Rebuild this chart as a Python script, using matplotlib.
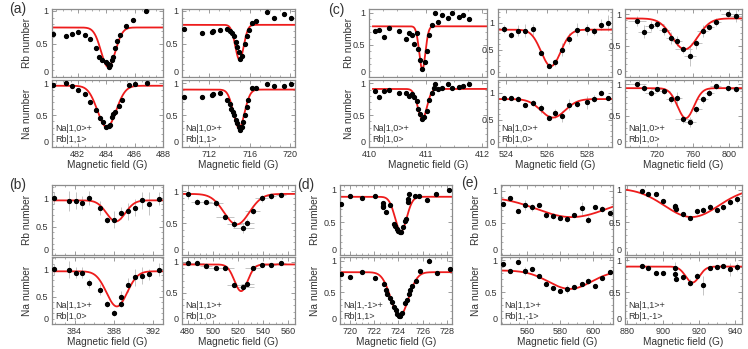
import numpy as np
import matplotlib
matplotlib.use("Agg")
import matplotlib.pyplot as plt
from matplotlib.ticker import AutoMinorLocator

plt.rcParams['font.family'] = ['Liberation Sans', 'DejaVu Sans']

# ---------------- data ----------------
# fit parameters: (baseline, depth, centre, sigma)

# (a) left: Na|1,0> + Rb|1,1>, ~484 G
a1_rb_x = [480.27, 481.2, 481.6, 482.0, 482.5, 482.9, 483.3, 483.5, 483.7, 484.0, 484.1,
           484.2, 484.3, 484.4, 484.5, 484.6, 484.8, 485.0, 485.4, 485.9, 486.8]
a1_rb_y = [0.65, 0.62, 0.65, 0.68, 0.63, 0.57, 0.44, 0.31, 0.26, 0.22, 0.19,
           0.15, 0.18, 0.25, 0.30, 0.44, 0.54, 0.63, 0.77, 0.87, 1.0]
a1_na_x = [480.27, 481.2, 481.6, 482.0, 482.5, 482.9, 483.3, 483.6, 483.8, 484.0,
           484.2, 484.3, 484.4, 484.5, 484.6, 484.9, 485.1, 485.6, 486.0, 486.9]
a1_na_y = [0.97, 1.0, 0.95, 0.89, 0.83, 0.71, 0.58, 0.45, 0.39, 0.31,
           0.33, 0.35, 0.47, 0.51, 0.55, 0.64, 0.74, 0.97, 0.98, 1.0]
a1_rb_fit = (0.75, 0.60, 484.15, 0.5)
a1_na_fit = (0.96, 0.65, 484.05, 0.65)

# (a) right: Na|1,0> + Rb|1,1>, ~715 G
a2_rb_x = [709.5, 711.3, 712.3, 712.4, 713.1, 713.8, 714.05, 714.3, 714.5, 714.65, 714.8, 714.95,
           715.05, 715.2, 715.5, 715.7, 715.9, 716.2, 716.6, 717.7, 718.4, 719.4, 720.15]
a2_rb_y = [0.72, 0.67, 0.68, 0.70, 0.71, 0.72, 0.69, 0.66, 0.62, 0.53, 0.45, 0.38,
           0.27, 0.32, 0.50, 0.62, 0.71, 0.82, 0.85, 0.99, 0.90, 0.95, 0.90]
a2_na_x = [709.5, 711.3, 712.3, 712.4, 713.1, 713.8, 714.05, 714.2, 714.4, 714.5, 714.65, 714.8, 714.9,
           715.05, 715.2, 715.35, 715.5, 715.7, 715.85, 716.2, 716.6, 717.7, 718.4, 719.4, 720.15]
a2_na_y = [0.79, 0.78, 0.81, 0.83, 0.84, 0.74, 0.67, 0.60, 0.55, 0.50, 0.43, 0.37, 0.32,
           0.27, 0.32, 0.39, 0.50, 0.63, 0.74, 0.92, 0.93, 0.99, 0.95, 0.96, 0.98]
a2_rb_fit = (0.79, 0.53, 715.0, 0.42)
a2_na_fit = (0.90, 0.60, 714.95, 0.55)

# (c) left: Na|1,0> + Rb|1,0>, ~411 G
c1_rb_x = [410.10, 410.17, 410.27, 410.36, 410.53, 410.65, 410.71, 410.76, 410.79, 410.84, 410.86, 410.90,
           410.94, 410.99, 411.02, 411.06, 411.11, 411.17, 411.21, 411.29, 411.40, 411.47, 411.58, 411.66, 411.77]
c1_rb_y = [0.72, 0.74, 0.63, 0.76, 0.72, 0.60, 0.68, 0.65, 0.52, 0.68, 0.44, 0.27,
           0.12, 0.23, 0.40, 0.65, 0.81, 1.0, 0.86, 0.96, 0.92, 0.99, 0.93, 0.97, 0.91]
c1_na_x = [410.10, 410.17, 410.27, 410.36, 410.53, 410.65, 410.71, 410.76, 410.79, 410.84, 410.86, 410.90, 410.94,
           410.97, 411.02, 411.06, 411.11, 411.15, 411.17, 411.21, 411.29, 411.40, 411.47, 411.58, 411.66, 411.77]
c1_na_y = [0.88, 0.79, 0.87, 0.89, 0.84, 0.84, 0.80, 0.83, 0.78, 0.72, 0.60, 0.52, 0.44,
           0.47, 0.57, 0.73, 0.85, 0.92, 0.99, 0.91, 0.92, 0.99, 0.92, 0.94, 0.96, 0.99]
c1_rb_fit = (0.79, 0.67, 410.94, 0.055)
c1_na_fit = (0.91, 0.47, 410.94, 0.08)

# (c) middle: Na|1,0> + Rb|1,0>, ~526 G
c2_x = [523.9, 524.25, 524.6, 524.95, 525.3, 525.7, 526.1, 526.4, 526.75, 527.1, 527.5, 527.95, 528.3, 528.65, 529.0]
c2_rb = [0.88, 0.77, 0.85, 0.85, 0.88, 0.45, 0.21, 0.27, 0.50, 0.70, 0.87, 0.88, 0.84, 0.96, 0.99]
c2_rb_err = [0.08, 0.06, 0.10, 0.12, 0.10, 0.05, 0.04, 0.06, 0.12, 0.10, 0.12, 0.10, 0.06, 0.10, 0.15]
c2_na = [0.90, 0.90, 0.89, 0.77, 0.81, 0.71, 0.54, 0.62, 0.56, 0.78, 0.79, 0.82, 0.89, 1.0, 0.90]
c2_na_err = [0.04, 0.03, 0.05, 0.03, 0.05, 0.08, 0.04, 0.08, 0.10, 0.10, 0.06, 0.12, 0.07, 0.05, 0.04]
c2_rb_fit = (0.87, 0.67, 526.2, 0.48)
c2_na_fit = (0.88, 0.34, 526.3, 0.6)

# (c) right: Na|1,0> + Rb|1,0>, ~750 G
c3_x = [698.6, 706.3, 713.4, 720.7, 728.1, 735.5, 742.1, 749.4, 756.8, 763.4, 770.8, 778.1, 785.2, 799.1, 807.2]
c3_xerr = [10, 7, 6, 7, 6, 5, 6, 9, 7, 6, 6, 5, 6, 8, 7]
c3_rb = [0.89, 0.72, 0.81, 0.84, 0.74, 0.62, 0.57, 0.44, 0.33, 0.54, 0.73, 0.80, 0.87, 1.0, 0.97]
c3_rb_err = [0.08, 0.10, 0.08, 0.06, 0.08, 0.10, 0.08, 0.06, 0.16, 0.10, 0.10, 0.06, 0.06, 0.04, 0.10]
c3_na = [1.0, 0.94, 0.87, 0.92, 0.90, 0.77, 0.78, 0.44, 0.40, 0.60, 0.76, 0.87, 0.97, 0.94, 0.92]
c3_na_err = [0.04, 0.05, 0.06, 0.04, 0.05, 0.06, 0.10, 0.06, 0.08, 0.06, 0.06, 0.05, 0.04, 0.04, 0.04]
c3_rb_fit = (0.93, 0.49, 751.0, 14.0)
c3_na_fit = (0.94, 0.48, 752.0, 9.0)

# (b) left: Na|1,1> + Rb|1,0>, ~388 G
b1_rb_x = [381.9, 383.4, 384.1, 384.8, 385.5, 386.6, 387.3, 388.0, 388.7, 389.4, 390.1, 390.85, 391.6, 392.6]
b1_rb_y = [1.0, 0.95, 0.95, 0.92, 1.0, 0.83, 0.61, 0.62, 0.74, 0.77, 0.83, 0.96, 0.90, 0.99]
b1_rb_err = [0.10, 0.17, 0.15, 0.12, 0.12, 0.12, 0.05, 0.15, 0.10, 0.15, 0.15, 0.15, 0.20, 0.12]
b1_na_x = [381.9, 383.4, 384.1, 384.8, 385.5, 386.6, 387.3, 388.0, 388.7, 388.7, 389.4, 390.1, 390.85, 391.6, 392.6]
b1_na_y = [1.0, 0.99, 0.93, 0.93, 0.74, 0.62, 0.36, 0.20, 0.50, 0.36, 0.71, 0.85, 0.88, 0.91, 0.99]
b1_na_err = [0.10, 0.15, 0.10, 0.10, 0.08, 0.10, 0.05, 0.05, 0.10, 0.05, 0.12, 0.15, 0.15, 0.10, 0.12]
b1_rb_fit = (0.96, 0.37, 388.2, 0.95)
b1_na_fit = (0.96, 0.64, 388.3, 1.05)

# (b) right: Na|1,1> + Rb|1,0>, ~520 G
b2_x = [480.0, 487.9, 494.8, 502.5, 509.9, 517.2, 524.4, 527.5, 531.8, 538.9, 546.3, 554.0]
b2_xerr = [5, 5, 5, 6, 7, 6, 8, 5, 6, 5, 4, 4]
b2_rb = [0.96, 0.84, 0.84, 0.81, 0.59, 0.49, 0.42, 0.51, 0.69, 0.89, 0.92, 0.95]
b2_rb_err = [0.08, 0.04, 0.03, 0.05, 0.03, 0.06, 0.08, 0.05, 0.05, 0.05, 0.04, 0.03]
b2_na = [0.98, 0.98, 0.94, 0.90, 0.90, 0.63, 0.60, 0.65, 0.90, 0.95, 0.95, 0.99]
b2_na_err = [0.03, 0.03, 0.03, 0.03, 0.03, 0.04, 0.04, 0.04, 0.03, 0.03, 0.03, 0.03]
b2_rb_fit = (0.96, 0.48, 519.0, 10.0)
b2_na_fit = (0.96, 0.43, 522.5, 5.3)

# (d): Na|1,-1> + Rb|1,1>, ~724 G
d_rb_x = [719.3, 720.0, 721.0, 722.1, 722.7, 722.7, 722.75, 723.0, 723.3, 723.6, 723.7, 723.85, 724.0,
          724.1, 724.25, 724.4, 724.55, 724.65, 724.75, 724.8, 724.9, 725.35, 725.65, 726.35, 727.1, 728.15]
d_rb_y = [0.78, 0.90, 0.875, 0.90, 0.80, 0.75, 0.73, 0.66, 0.77, 0.48, 0.44, 0.39, 0.36,
          0.35, 0.35, 0.43, 0.52, 0.55, 0.81, 0.86, 0.93, 0.90, 0.90, 0.84, 0.93, 1.0]
d_na_x = [719.3, 720.0, 721.0, 722.1, 722.8, 722.95, 723.1, 723.3, 723.5, 723.6, 723.77, 723.88, 724.04,
          724.15, 724.3, 724.56, 724.7, 724.86, 724.97, 725.14, 725.47, 725.8, 726.5, 727.2, 728.25]
d_na_y = [0.79, 0.75, 0.83, 0.72, 0.63, 0.54, 0.47, 0.41, 0.35, 0.27, 0.22, 0.16, 0.13,
          0.13, 0.17, 0.33, 0.38, 0.48, 0.54, 0.60, 0.68, 0.84, 1.0, 0.81, 0.87]
d_rb_fit = (0.89, 0.53, 724.2, 0.48)
d_na_fit = (0.82, 0.69, 724.1, 0.72)

# (e) left: Na|1,1> + Rb|1,-1>, ~586 G
e1_x = [545.6, 550.0, 554.4, 558.6, 563.0, 567.4, 571.4, 575.6, 580.0, 584.4, 588.6, 593.0, 597.0, 601.4, 605.6, 610.0]
e1_rb = [0.80, 0.89, 0.69, 0.78, 0.74, 0.78, 0.62, 0.60, 0.58, 0.56, 0.62, 0.73, 0.55, 0.74, 0.72, 0.66]
e1_rb_err = [0.0, 0.0, 0.0, 0.08, 0.05, 0.0, 0.04, 0.04, 0.04, 0.04, 0.03, 0.10, 0.05, 0.03, 0.05, 0.03]
e1_na = [0.94, 0.83, 0.97, 0.83, 0.86, 0.76, 0.63, 0.56, 0.52, 0.55, 0.58, 0.62, 0.67, 0.60, 0.72, 0.81]
e1_na_err = [0.0, 0.0, 0.0, 0.06, 0.03, 0.03, 0.03, 0.02, 0.02, 0.06, 0.03, 0.03, 0.05, 0.03, 0.02, 0.02]
e1_rb_fit = (0.91, 0.32, 587.0, 21.0)
e1_na_fit = (0.84, 0.29, 586.0, 13.0)

# (e) right: Na|1,1> + Rb|1,-1>, ~916 G
e2_x = [888.3, 892.0, 896.1, 899.9, 906.8, 906.8, 907.3, 911.0, 915.1, 918.8, 922.4, 926.2, 929.9, 933.5, 937.6, 941.0]
e2_rb = [0.98, 0.94, 0.94, 0.83, 0.75, 0.73, 0.70, 0.62, 0.57, 0.67, 0.69, 0.74, 0.69, 0.73, 0.81, 0.85]
e2_rb_err = [0.02, 0.03, 0.03, 0.02, 0.04, 0.03, 0.03, 0.04, 0.03, 0.04, 0.05, 0.04, 0.03, 0.04, 0.05, 0.05]
e2_na = [0.91, 0.88, 0.80, 0.80, 0.87, 0.78, 0.71, 0.74, 0.65, 0.76, 0.61, 0.88, 0.90, 0.91, 0.86, 0.89]
e2_na_err = [0.02, 0.02, 0.02, 0.02, 0.10, 0.05, 0.04, 0.05, 0.05, 0.04, 0.15, 0.03, 0.03, 0.03, 0.10, 0.06]
e2_rb_fit = (1.02, 0.44, 916.0, 15.0)
e2_na_fit = (0.90, 0.25, 916.5, 3.8)

# ---------------- drawing ----------------
W, H = 748, 349
RED = '#ee1c1c'
FRAME = '#8c8c8c'
TXT = '#333333'

fig = plt.figure(figsize=(W / 100, H / 100), dpi=100)


def gauss(x, p):
    base, depth, x0, s = p
    return base - depth * np.exp(-(x - x0) ** 2 / (2 * s ** 2))


def add_ax(x0, x1, y0, y1):
    # pixel box -> figure fraction
    return fig.add_axes([x0 / W, 1 - y1 / H, (x1 - x0) / W, (y1 - y0) / H])


def draw(ax, x, y, fit, yerr=None, xerr=None, *, xlim, ylim, xticks, bottom=False):
    if yerr is not None or xerr is not None:
        ax.errorbar(x, y, yerr=yerr, xerr=xerr, fmt='none', ecolor='#c4c4c4',
                    elinewidth=0.7, capsize=0, zorder=1)
    xf = np.linspace(xlim[0], xlim[1], 400)
    ax.plot(xf, gauss(xf, fit), color=RED, lw=1.3, zorder=2)
    ax.plot(x, y, 'o', color='black', ms=2.8, zorder=3)
    ax.set_xlim(*xlim)
    ax.set_ylim(*ylim)
    ax.set_xticks(xticks)
    ax.set_yticks([0, 0.5, 1])
    ax.set_yticklabels(['0', '0.5', '1'])
    ax.xaxis.set_minor_locator(AutoMinorLocator(4))
    ax.yaxis.set_minor_locator(AutoMinorLocator(5))
    ax.tick_params(which='both', direction='in', color=FRAME, labelsize=6.5,
                   labelcolor=TXT, top=True, right=True)
    ax.tick_params(axis='x', pad=2)
    ax.tick_params(axis='y', pad=2.5)
    ax.tick_params(which='major', length=3, width=0.6)
    ax.tick_params(which='minor', length=1.5, width=0.5)
    # the "0" label sits on the bottom edge, as in the original
    ax.yaxis.get_major_ticks()[0].label1.set_va('bottom')
    if not bottom:
        ax.tick_params(labelbottom=False)
    for s in ax.spines.values():
        s.set_color(FRAME)
        s.set_linewidth(0.9)


def column(x0, x1, rows, rb, na, xlim, xticks, ylims, label, ylab=None):
    (ty0, ty1), (by0, by1) = rows
    ax_t = add_ax(x0, x1, ty0, ty1)
    ax_b = add_ax(x0, x1, by0, by1)
    draw(ax_t, *rb, xlim=xlim, ylim=ylims[0], xticks=xticks)
    draw(ax_b, *na, xlim=xlim, ylim=ylims[1], xticks=xticks, bottom=True)
    ax_b.set_xlabel('Magnetic field (G)', fontsize=7.3, color=TXT, labelpad=1)
    ax_b.text(0.03, 0.04, label, transform=ax_b.transAxes, fontsize=6.5,
              color=TXT, va='bottom', ha='left', linespacing=1.4)
    if ylab is not None:
        ax_t.set_ylabel('Rb number', fontsize=7.3, color=TXT)
        ax_b.set_ylabel('Na number', fontsize=7.3, color=TXT)
        ax_t.yaxis.set_label_coords(ylab, 0.5)
        ax_b.yaxis.set_label_coords(ylab, 0.5)
    return ax_t, ax_b


row1 = ((9, 77), (80, 147))
row2 = ((185, 255), (257, 324))

column(52, 163, row1, (a1_rb_x, a1_rb_y, a1_rb_fit), (a1_na_x, a1_na_y, a1_na_fit),
       (480.2, 488.0), [482, 484, 486, 488], [(0, 1.03), (0, 1.05)],
       'Na|1,0>+\nRb|1,1>', ylab=-0.18)
column(182, 295, row1, (a2_rb_x, a2_rb_y, a2_rb_fit), (a2_na_x, a2_na_y, a2_na_fit),
       (709.3, 720.5), [712, 716, 720], [(0, 1.03), (0, 1.05)],
       'Na|1,0>+\nRb|1,1>')
column(369, 487, row1, (c1_rb_x, c1_rb_y, c1_rb_fit), (c1_na_x, c1_na_y, c1_na_fit),
       (410.07, 412.08), [410, 411, 412], [(0, 1.06), (0, 1.05)],
       'Na|1,0>+\nRb|1,0>', ylab=-0.13)
column(498, 612, row1, (c2_x, c2_rb, c2_rb_fit, c2_rb_err), (c2_x, c2_na, c2_na_fit, c2_na_err),
       (523.6, 529.2), [524, 526, 528], [(0, 1.25), (0, 1.23)],
       'Na|1,0>+\nRb|1,0>')
column(625, 742, row1, (c3_x, c3_rb, c3_rb_fit, c3_rb_err, c3_xerr),
       (c3_x, c3_na, c3_na_fit, c3_na_err, c3_xerr),
       (685, 814), [720, 760, 800], [(0, 1.08), (0, 1.07)],
       'Na|1,0>+\nRb|1,0>')

column(52, 163, row2, (b1_rb_x, b1_rb_y, b1_rb_fit, b1_rb_err), (b1_na_x, b1_na_y, b1_na_fit, b1_na_err),
       (381.7, 393.0), [384, 388, 392], [(0, 1.23), (0, 1.22)],
       'Na|1,1>+\nRb|1,0>', ylab=-0.18)
column(182, 295, row2, (b2_x, b2_rb, b2_rb_fit, b2_rb_err, b2_xerr),
       (b2_x, b2_na, b2_na_fit, b2_na_err, b2_xerr),
       (475.6, 565.3), [480, 500, 520, 540, 560], [(0, 1.1), (0, 1.08)],
       'Na|1,1>+\nRb|1,0>')
column(340, 452, row2, (d_rb_x, d_rb_y, d_rb_fit), (d_na_x, d_na_y, d_na_fit),
       (719.2, 728.4), [720, 722, 724, 726, 728], [(0, 1.07), (0, 1.06)],
       'Na|1,-1>+\nRb|1,1>', ylab=-0.18)
column(501, 613, row2, (e1_x, e1_rb, e1_rb_fit, e1_rb_err), (e1_x, e1_na, e1_na_fit, e1_na_err),
       (544.4, 612.0), [560, 580, 600], [(0, 1.09), (0, 1.05)],
       'Na|1,1>+\nRb|1,-1>', ylab=-0.18)
column(625, 742, row2, (e2_x, e2_rb, e2_rb_fit, e2_rb_err), (e2_x, e2_na, e2_na_fit, e2_na_err),
       (879, 944), [880, 900, 920, 940], [(0, 1.07), (0, 1.05)],
       'Na|1,1>+\nRb|1,-1>')

for lab, px, py in [('(a)', 18, 9), ('(b)', 18, 185), ('(c)', 336, 10), ('(d)', 306, 185), ('(e)', 470, 183)]:
    fig.text(px / W, 1 - py / H, lab, fontsize=10, color=TXT, ha='center', va='center')

fig.savefig('out.png', dpi=100)
